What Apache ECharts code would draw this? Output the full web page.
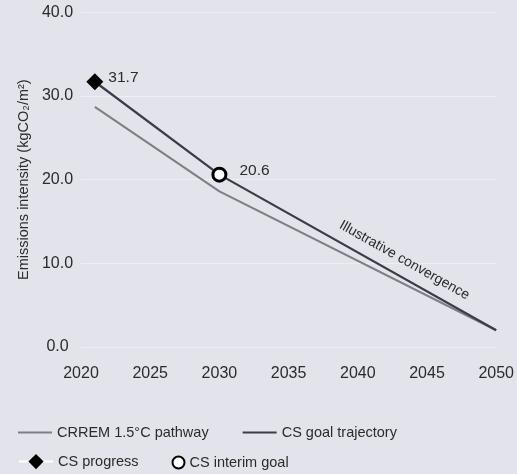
<!DOCTYPE html>
<html>
<head>
<meta charset="utf-8">
<script src="https://cdn.jsdelivr.net/npm/echarts@6/dist/echarts.min.js"></script>
<style>
html,body{margin:0;padding:0;background:#e3e3ec;}
#chart{width:517px;height:474px;}
</style>
</head>
<body>
<div id="chart"></div>
<script>
// ---- data ----
const xTicks = [2020, 2025, 2030, 2035, 2040, 2045, 2050];
const yTicks = [0, 10, 20, 30, 40];
const crremYears = [2021, 2030, 2050];
const crremValues = [28.7, 18.6, 2.0];
const goalYears = [2021, 2030, 2050];
const goalValues = [31.7, 20.6, 2.0];
const progressYears = [2021];
const progressValues = [31.7];
const interimYears = [2030];
const interimValues = [20.6];
const seriesNames = ['CRREM 1.5°C pathway', 'CS goal trajectory', 'CS progress', 'CS interim goal'];
const annotationText = 'Illustrative convergence';
const annotationYear = 2042.8;

const pairs = (xs, ys) => xs.map((x, i) => [x, ys[i]]);
const FONT = '"Liberation Sans", Arial, Helvetica, sans-serif';
const TXT = '#2b2b2b';
const CRREM_COLOR = '#7e7e84';
const GOAL_COLOR = '#3c3c46';

const chart = echarts.init(document.getElementById('chart'), null, {renderer: 'canvas'});
const option = {
  backgroundColor: '#e3e3ec',
  animation: false,
  textStyle: {fontFamily: FONT, color: TXT},
  grid: {left: 81, right: 19, top: 12.3, bottom: 127, containLabel: false},
  xAxis: {
    type: 'value',
    min: xTicks[0], max: xTicks[xTicks.length - 1], interval: 5,
    axisLine: {show: false}, axisTick: {show: false}, splitLine: {show: false},
    axisLabel: {fontSize: 16, color: TXT, margin: 19, fontFamily: FONT,
      formatter: v => String(v)}
  },
  yAxis: {
    type: 'value',
    min: yTicks[0], max: yTicks[yTicks.length - 1], interval: 10,
    name: 'Emissions intensity (kgCO₂/m²)',
    nameLocation: 'middle', nameGap: 45, nameRotate: 90,
    nameTextStyle: {fontSize: 14.5, color: TXT, fontFamily: FONT},
    axisLine: {show: false}, axisTick: {show: false},
    splitLine: {lineStyle: {color: '#eeeef4', width: 1}},
    axisLabel: {fontSize: 16, color: TXT, margin: 23.5, align: 'center', fontFamily: FONT,
      formatter: v => v.toFixed(1)}
  },
  legend: [
    {
      data: [{name: seriesNames[0], icon: 'rect'}, {name: seriesNames[1], icon: 'rect'}],
      left: 18, top: 425, padding: 0, itemWidth: 34, itemHeight: 2, itemGap: 34,
      textStyle: {fontSize: 14.5, color: TXT, fontFamily: FONT},
      selectedMode: false
    },
    {
      data: [seriesNames[2]],
      left: 18, top: 454, padding: 0, itemWidth: 34, itemHeight: 19,
      textStyle: {fontSize: 14.5, color: TXT, fontFamily: FONT},
      selectedMode: false
    },
    {
      data: [seriesNames[3]],
      left: 171.5, top: 455, padding: 0, itemWidth: 12, itemHeight: 12,
      textStyle: {fontSize: 14.5, color: TXT, fontFamily: FONT},
      selectedMode: false
    }
  ],
  series: [
    {
      name: seriesNames[0], type: 'line', z: 2,
      data: pairs(crremYears, crremValues),
      showSymbol: false, symbol: 'none',
      lineStyle: {color: CRREM_COLOR, width: 2},
      itemStyle: {color: CRREM_COLOR}
    },
    {
      name: seriesNames[1], type: 'line', z: 3,
      data: pairs(goalYears, goalValues),
      showSymbol: false, symbol: 'none',
      lineStyle: {color: GOAL_COLOR, width: 2.2},
      itemStyle: {color: GOAL_COLOR}
    },
    {
      name: seriesNames[2], type: 'line', z: 5,
      data: pairs(progressYears, progressValues),
      symbol: 'diamond', symbolSize: 17, showSymbol: true,
      lineStyle: {color: '#ffffff', width: 2.5},
      itemStyle: {color: '#000000'},
      label: {show: true, position: 'right', distance: 5, offset: [0, -4],
        fontSize: 15.5, color: TXT, fontFamily: FONT,
        formatter: p => p.value[1].toFixed(1)}
    },
    {
      name: seriesNames[3], type: 'scatter', z: 4,
      data: pairs(interimYears, interimValues),
      symbol: 'circle', symbolSize: 13,
      itemStyle: {color: '#ffffff', borderColor: '#000000', borderWidth: 3, opacity: 1},
      label: {show: true, position: 'right', distance: 12, offset: [0, -4],
        fontSize: 15.5, color: TXT, fontFamily: FONT,
        formatter: p => p.value[1].toFixed(1)}
    }
  ]
};
chart.setOption(option);

// annotation along the goal trajectory
function goalAt(year) {
  for (let i = 0; i < goalYears.length - 1; i++) {
    if (year >= goalYears[i] && year <= goalYears[i + 1]) {
      const t = (year - goalYears[i]) / (goalYears[i + 1] - goalYears[i]);
      return goalValues[i] + t * (goalValues[i + 1] - goalValues[i]);
    }
  }
  return goalValues[goalValues.length - 1];
}
const pA = chart.convertToPixel({gridIndex: 0}, [goalYears[1], goalValues[1]]);
const pB = chart.convertToPixel({gridIndex: 0}, [goalYears[2], goalValues[2]]);
const ang = Math.atan2(pB[1] - pA[1], pB[0] - pA[0]);
const pc = chart.convertToPixel({gridIndex: 0}, [annotationYear, goalAt(annotationYear)]);
const off = 16;
const cx = pc[0] + Math.sin(ang) * off;
const cy = pc[1] - Math.cos(ang) * off;
chart.setOption({
  graphic: [{
    type: 'text', x: cx, y: cy, rotation: -ang, z: 10,
    style: {text: annotationText, fontSize: 14, fontFamily: FONT, fill: TXT,
      align: 'center', verticalAlign: 'middle'}
  }]
});
</script>
</body>
</html>
